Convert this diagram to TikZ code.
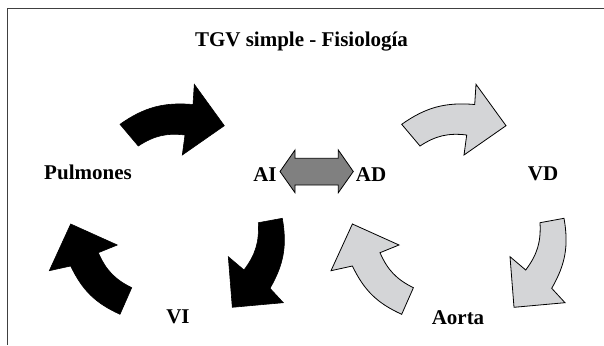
\documentclass[tikz,border=0pt]{standalone}
\usepackage{fontspec}
\setmainfont{Liberation Serif}
\usetikzlibrary{calc}
\definecolor{palegrey}{RGB}{212,213,215}
\definecolor{midgrey}{RGB}{128,128,128}
\tikzstyle{organ}=[font=\fontsize{21}{25}\selectfont\bfseries, inner sep=0pt, anchor=base]
\tikzstyle{oxy}=[fill=black, draw=black, line width=0.6pt]
\tikzstyle{deoxy}=[fill=palegrey, draw=black, line width=0.8pt]
\tikzstyle{shunt}=[fill=midgrey, draw=black, line width=0.8pt]
\tikzstyle{frame}=[draw=black!75, line width=1.3pt]

\begin{document}
\begin{tikzpicture}[x=1pt, y=-1pt]
    \useasboundingbox (0,0) rectangle (604,345);
    % Open frame, only top and left edges show
    \draw[frame] (604,8.5) -- (7.5,8.5) -- (7.5,345);
    % First we place the labels
    \node[organ] (title) at (301.5,46.7) {TGV simple - Fisiología};
    \foreach \pos/\name/\txt in {{(88,179)/pulm/Pulmones}, {(265,181)/ai/AI}, {(371,181)/ad/AD}, {(543,180)/vd/VD}, {(178,323.5)/vi/VI}, {(458,324)/aorta/Aorta}}
        \node[organ] (\name) at \pos {\txt};
    % Shunt between the atria
    \path[shunt] (280,171.5) -- (295,150) -- (295,158.3) -- (338.3,158.3) -- (338.3,150) -- (353.3,171.5)
        -- (338.3,192.7) -- (338.3,185) -- (295,185) -- (295,192.7) -- cycle;
    % Curved arrows: black circuit on the left, same shapes shifted for the grey one
    \foreach \dx/\kind in {0/oxy, 281.7/deoxy} {
        % over the top
        \path[\kind, xshift=\dx pt] (120,124.3) to[bend left=20] (193,104.5) -- (194.3,84.3) -- (224.3,125.7)
            -- (182.3,155) -- (185,135) to[bend right=20] (138.3,146) -- cycle;
        % back up on the left
        \path[\kind, xshift=\dx pt] (120,314.3) to[bend left=20] (70.7,266) -- (49.3,270.7) -- (70.7,224)
            -- (117.3,245) -- (98.3,252.7) to[bend right=20] (131.7,287.7) -- cycle;
        % down on the right
        \path[\kind, xshift=\dx pt] (282.3,218.3) to[bend left=20] (270,288.3) -- (283.3,302.7) -- (232.3,307.3)
            -- (228.3,256.7) -- (244,270) to[bend right=20] (258.3,222.7) -- cycle;
    }
\end{tikzpicture}
\end{document}
